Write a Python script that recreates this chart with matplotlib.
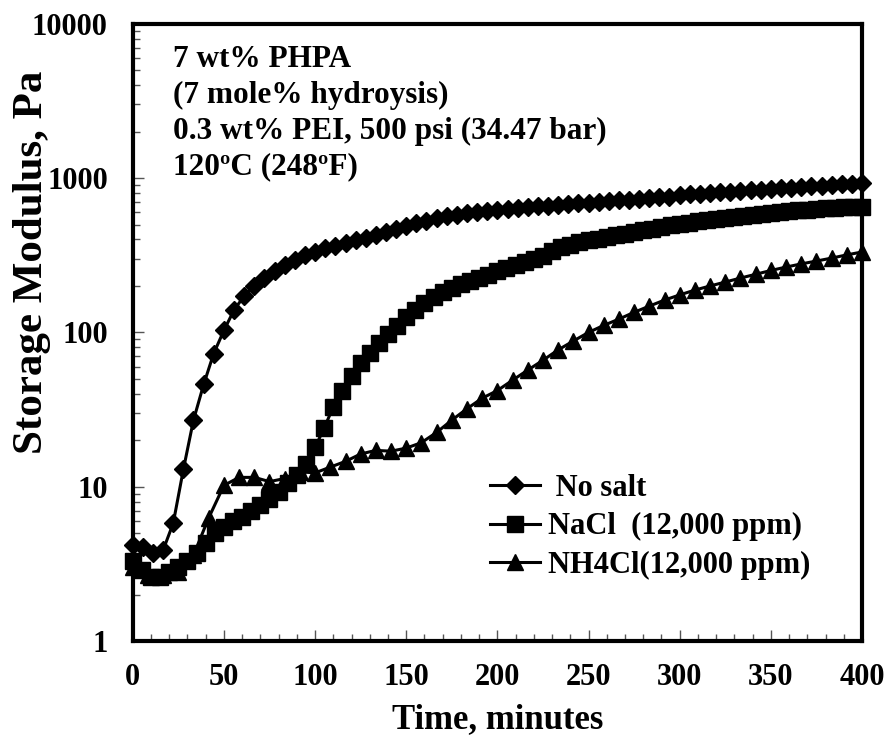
import numpy as np
import matplotlib
matplotlib.use("Agg")
import matplotlib.pyplot as plt
from matplotlib.ticker import FixedLocator, LogLocator, NullFormatter

plt.rcParams['font.family'] = ['Liberation Serif', 'DejaVu Serif']
plt.rcParams['font.weight'] = 'bold'

# --- data ---
t_nosalt = [0, 5.6, 11.1, 16.7, 22.2, 27.8, 33.3, 38.9, 44.4,
            50, 55.6, 61.1, 66.7, 72.2, 77.8, 83.3, 88.9, 94.4,
            100, 105.6, 111.1, 116.7, 122.2, 127.8, 133.3, 138.9, 144.4,
            150, 155.6, 161.1, 166.7, 172.2, 177.8, 183.3, 188.9, 194.4,
            200, 205.6, 211.1, 216.7, 222.2, 227.8, 233.3, 238.9, 244.4,
            250, 255.6, 261.1, 266.7, 272.2, 277.8, 283.3, 288.9, 294.4,
            300, 305.6, 311.1, 316.7, 322.2, 327.8, 333.3, 338.9, 344.4,
            350, 355.6, 361.1, 366.7, 372.2, 377.8, 383.3, 388.9, 394.4,
            400]
g_nosalt = [4.2, 4.1, 3.7, 3.9, 5.8, 13, 27, 46, 73,
            103, 140, 172, 200, 225, 250, 273, 296, 316,
            334, 350, 365, 380, 396, 412, 430, 450, 470,
            490, 510, 530, 550, 565, 580, 595, 605, 615,
            625, 633, 641, 649, 657, 664, 671, 678, 685,
            692, 700, 708, 717, 725, 733, 742, 750, 758,
            775, 783, 792, 800, 809, 817, 826, 834, 843,
            851, 860, 868, 877, 885, 894, 902, 911, 919,
            928]

t_nacl = [0, 5, 10, 15, 20, 25, 30, 35, 40, 45,
          50, 55, 60, 65, 70, 75, 80, 85, 90, 95,
          100, 105, 110, 115, 120, 125, 130, 135, 140, 145,
          150, 155, 160, 165, 170, 175, 180, 185, 190, 195,
          200, 205, 210, 215, 220, 225, 230, 235, 240, 245,
          250, 255, 260, 265, 270, 275, 280, 285, 290, 295,
          300, 305, 310, 315, 320, 325, 330, 335, 340, 345,
          350, 355, 360, 365, 370, 375, 380, 385, 390, 395,
          400]
g_nacl = [3.3, 2.9, 2.6, 2.6, 2.8, 3.0, 3.3, 3.7, 4.3, 5.0,
          5.5, 6.0, 6.4, 7.0, 7.6, 8.3, 9.2, 10.5, 12, 14,
          18, 24, 33, 42, 52, 63, 74, 85, 97, 110,
          125, 140, 155, 170, 183, 194, 205, 215, 226, 237,
          249, 261, 273, 286, 300, 315, 335, 355, 370, 383,
          395, 405, 415, 425, 436, 447, 458, 470, 482, 494,
          505, 515, 525, 535, 545, 554, 563, 572, 580, 588,
          596, 603, 610, 617, 624, 630, 636, 641, 646, 650,
          654]

t_nh4cl = [0, 8.3, 16.7, 25, 33.3, 41.7, 50, 58.3, 66.7, 75,
           83.3, 91.7, 100, 108.3, 116.7, 125, 133.3, 141.7, 150, 158.3,
           166.7, 175, 183.3, 191.7, 200, 208.3, 216.7, 225, 233.3, 241.7,
           250, 258.3, 266.7, 275, 283.3, 291.7, 300, 308.3, 316.7, 325,
           333.3, 341.7, 350, 358.3, 366.7, 375, 383.3, 391.7, 400]
g_nh4cl = [3.0, 2.7, 2.7, 2.8, 3.6, 6.3, 10.2, 11.5, 11.5, 10.8,
           11.3, 12.5, 12.3, 13.4, 14.6, 16.3, 17.2, 17.0, 17.8, 19.3,
           22.5, 27, 32, 37.5, 42, 49, 57, 66, 77, 88,
           100, 111, 122, 135, 148, 162, 175, 188, 200, 212,
           225, 238, 252, 265, 278, 290, 303, 318, 332]

labels = [' No salt', 'NaCl  (12,000 ppm)', 'NH4Cl(12,000 ppm)']
note = ("7 wt% PHPA\n(7 mole% hydroysis)\n"
        "0.3 wt% PEI, 500 psi (34.47 bar)\n120\u00baC (248\u00baF)")

fig = plt.figure(figsize=(8.85, 7.42), dpi=100)
ax = fig.add_axes([0.150, 0.136, 0.824, 0.832])

ax.plot(t_nosalt, g_nosalt, '-', color='black', lw=2.2, marker='D',
        ms=9, label=labels[0], clip_on=False, zorder=3)
ax.plot(t_nacl, g_nacl, '-', color='black', lw=2.2, marker='s',
        ms=11, label=labels[1], clip_on=False, zorder=3)
ax.plot(t_nh4cl, g_nh4cl, '-', color='black', lw=2.2, marker='^',
        ms=12, label=labels[2], clip_on=False, zorder=3)

ax.set_yscale('log')
ax.set_xlim(0, 400)
ax.set_ylim(1, 10000)
ax.xaxis.set_major_locator(FixedLocator([0, 50, 100, 150, 200, 250, 300, 350, 400]))
ax.xaxis.set_minor_locator(FixedLocator(list(range(0, 401, 10))))
ax.yaxis.set_major_locator(FixedLocator([1, 10, 100, 1000, 10000]))
ax.yaxis.set_minor_locator(LogLocator(base=10, subs=np.arange(2, 10)))
ax.yaxis.set_minor_formatter(NullFormatter())
ax.set_yticklabels(['1', '10', '100', '1000', '10000'])

ax.tick_params(axis='both', which='both', direction='in', colors='#555555',
               labelcolor='black', width=1, labelsize=22)
ax.tick_params(axis='both', which='major', length=8)
ax.tick_params(axis='both', which='minor', length=5)
ax.tick_params(axis='x', which='major', pad=16)
ax.tick_params(axis='y', which='major', pad=18)
for s in ax.spines.values():
    s.set_linewidth(3)
    s.set_color('black')

ax.set_xlabel('Time, minutes', fontsize=25, fontweight='bold', labelpad=8)
ax.set_ylabel('Storage Modulus, Pa', fontsize=31, fontweight='bold')
ax.yaxis.set_label_coords(-0.112, 0.614)

ax.text(0.055, 0.965, note, transform=ax.transAxes, fontsize=22.5,
        fontweight='bold', va='top', ha='left', linespacing=1.3)

ax.legend(loc='center left', bbox_to_anchor=(0.49, 0.185), frameon=False,
          fontsize=22, handlelength=1.64, handletextpad=0.26,
          labelspacing=0.31, borderpad=0, borderaxespad=0)

fig.savefig('out.png', dpi=100)
